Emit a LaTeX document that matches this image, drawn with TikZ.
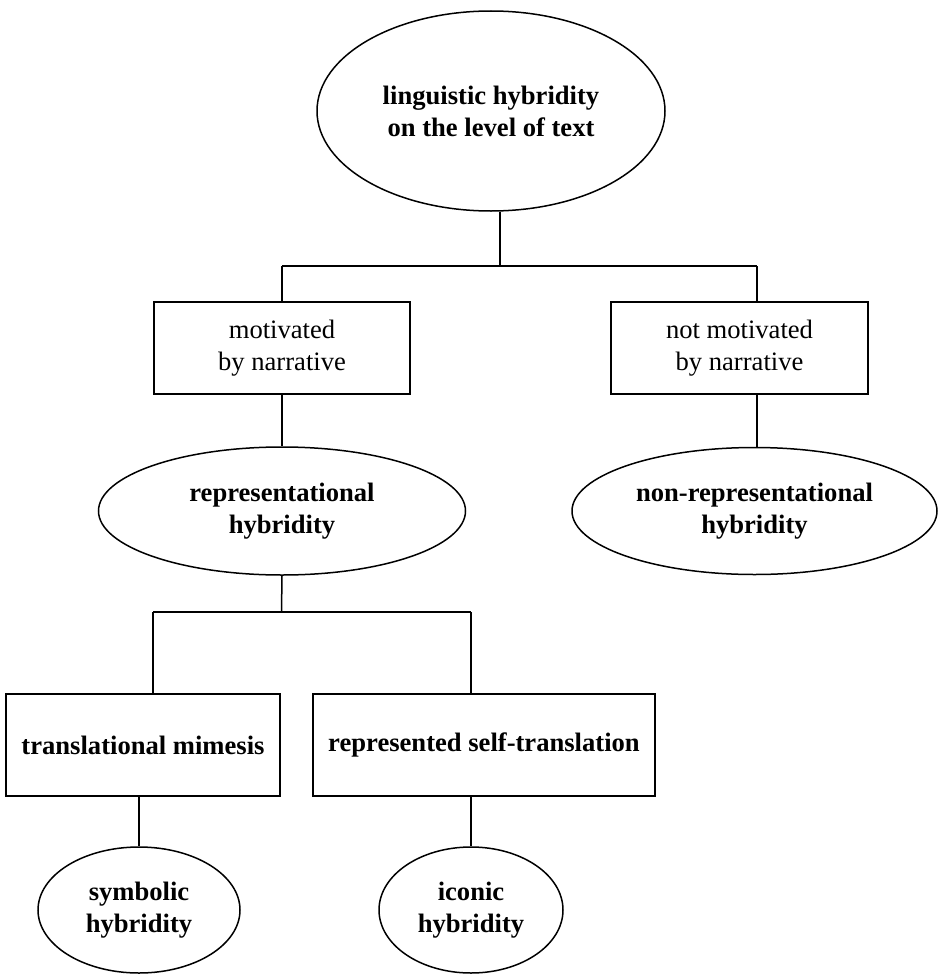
\documentclass[tikz,border=0pt]{standalone}
\usepackage{fontspec}
\setmainfont{Liberation Serif}
\usetikzlibrary{shapes.geometric}
\usetikzlibrary{positioning}

\begin{document}
\begin{tikzpicture}[x=1pt,y=1pt,line width=1.5pt,
	every node/.style={font=\fontsize{26.6}{32}\selectfont,align=center,inner sep=0pt},
	oval node/.style={ellipse,draw,font=\fontsize{26.6}{32}\selectfont\bfseries},
	box node/.style={rectangle,draw},
	bold box/.style={box node,font=\fontsize{26.6}{32}\selectfont\bfseries}]
	
	\useasboundingbox (0,0) rectangle (940,-974);
	
	\node[oval node,minimum width=348,minimum height=200] (text) at (491,-111) {linguistic hybridity\\on the level of text};
	\node[box node,minimum width=256,minimum height=92] (mot) at (282,-348) {motivated\\by narrative};
	\node[box node,minimum width=257,minimum height=92] (notmot) at (739.5,-348) {not motivated\\by narrative};
	\node[oval node,minimum width=367,minimum height=128] (rep) [below of=mot,node distance=163pt] {representational\\hybridity};
	\node[oval node,minimum width=365,minimum height=127] (nonrep) at (754.5,-511) {non-representational\\hybridity};
	\node[bold box,minimum width=274,minimum height=102] (transl) at (143,-745) {translational mimesis};
	\node[bold box,minimum width=342,minimum height=102] (selftr) at (484,-745) {represented self-translation};
	\node[oval node,minimum width=202,minimum height=126] (symb) [below of=transl,node distance=165pt,xshift=-4pt] {symbolic\\hybridity};
	\node[oval node,minimum width=184,minimum height=126] (icon) at (471,-910) {iconic\\hybridity};
	
	% forks
	\coordinate (fa) at (500,-266);
	\coordinate (fl) at (282,-266);
	\coordinate (fr) at (757,-266);
	\coordinate (ga) at (281.5,-612);
	\coordinate (gl) at (153,-612);
	\coordinate (gr) at (471,-612);
	
	\draw (text.south -| fa) -- (fa);
	\draw (fl) -- (fr);
	\draw (fl) -- (fl |- mot.north);
	\draw (fr) -- (fr |- notmot.north);
	\draw (mot.south -| rep.north) -- (rep.north);
	\draw (notmot.south -| fr) -- (nonrep.north -| fr);
	\draw (rep.south) -- (ga);
	\draw (gl) -- (gr);
	\draw (gl) -- (gl |- transl.north);
	\draw (gr) -- (gr |- selftr.north);
	\draw (transl.south -| symb.north) -- (symb.north);
	\draw (selftr.south -| icon.north) -- (icon.north);
\end{tikzpicture}
\end{document}
